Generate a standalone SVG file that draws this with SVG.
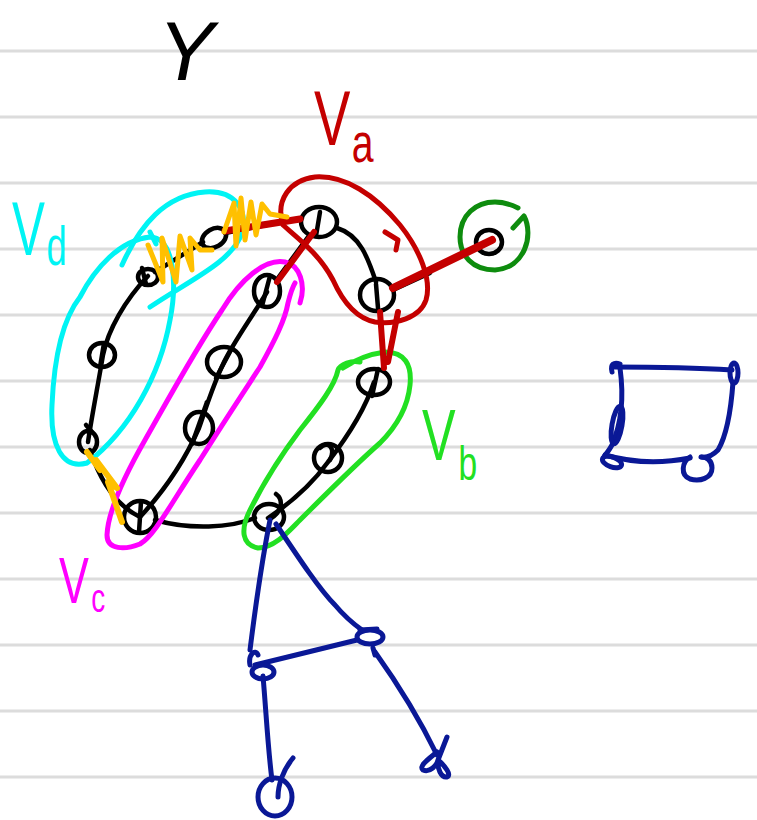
<svg xmlns="http://www.w3.org/2000/svg" width="757" height="820" viewBox="0 0 757 820">
<style>
.rule{stroke:#dcdcdc;stroke-width:3}
.s{fill:none;stroke-linecap:round;stroke-linejoin:round}
.k{stroke:#000;stroke-width:4.5}
.r{stroke:#c40000;stroke-width:5}
.rt{stroke:#c40000;stroke-width:8}
.y{stroke:#ffc000;stroke-width:5}
.cy{stroke:#00f4f4;stroke-width:5}
.mg{stroke:#ff00ff;stroke-width:5}
.lm{stroke:#22e022;stroke-width:5}
.dg{stroke:#0e8c0e;stroke-width:5}
.b{stroke:#0a1896;stroke-width:5}
.lbl{font-family:"Liberation Sans",Arial,sans-serif}
</style>
<rect width="757" height="820" fill="#fff"/>
<g id="rules">
<line class="rule" x1="0" y1="51" x2="757" y2="51"/>
<line class="rule" x1="0" y1="117" x2="757" y2="117"/>
<line class="rule" x1="0" y1="183" x2="757" y2="183"/>
<line class="rule" x1="0" y1="249" x2="757" y2="249"/>
<line class="rule" x1="0" y1="315" x2="757" y2="315"/>
<line class="rule" x1="0" y1="381" x2="757" y2="381"/>
<line class="rule" x1="0" y1="447" x2="757" y2="447"/>
<line class="rule" x1="0" y1="513" x2="757" y2="513"/>
<line class="rule" x1="0" y1="579" x2="757" y2="579"/>
<line class="rule" x1="0" y1="645" x2="757" y2="645"/>
<line class="rule" x1="0" y1="711" x2="757" y2="711"/>
<line class="rule" x1="0" y1="777" x2="757" y2="777"/>
</g>
<g id="connectors">
<path class="s k" d="M337,228 C360,235 368,258 376,282"/>
<path class="s k" d="M155,272 L203,242 M225,233 L302,218"/>
<path class="s k" d="M308,237 L278,278"/>
<path class="s k" d="M267,292 C250,320 235,340 224,362 C213,385 207,405 199,428 C185,460 165,490 140,517"/>
<path class="s k" d="M148,276 C125,300 108,330 103,355 C98,385 92,415 88,442"/>
<path class="s k" d="M90,450 C100,480 115,505 140,517"/>
<path class="s k" d="M155,520 C190,530 230,528 255,518"/>
<path class="s k" d="M268,518 C295,500 315,480 328,462 C345,440 365,410 374,382"/>
<path class="s k" d="M393,290 L430,273"/>
</g>
<g id="n1"><ellipse class="s k" cx="319" cy="222" rx="18" ry="15"/><path class="s k" d="M320,212 L316,236"/></g>
<g id="n2"><ellipse class="s k" cx="377" cy="295" rx="17" ry="16"/><path class="s k" d="M376,284 L378,308"/></g>
<g id="n3"><ellipse class="s k" cx="489" cy="242" rx="13" ry="12"/></g>
<g id="n4"><ellipse class="s k" cx="214" cy="238" rx="13" ry="9" transform="rotate(-30 214 238)"/></g>
<g id="n5"><ellipse class="s k" cx="148" cy="277" rx="10" ry="8"/><path class="s k" d="M142,268 L146,284"/></g>
<g id="n6"><ellipse class="s k" cx="102" cy="355" rx="13" ry="12"/><path class="s k" d="M104,343 L100,367"/></g>
<g id="n7"><ellipse class="s k" cx="88" cy="442" rx="9" ry="11"/><path class="s k" d="M86,425 L92,432"/></g>
<g id="n8"><ellipse class="s k" cx="140" cy="517" rx="16" ry="16"/><path class="s k" d="M141,502 L139,532"/></g>
<g id="n9"><ellipse class="s k" cx="269" cy="517" rx="15" ry="13"/><path class="s k" d="M276,494 C284,500 282,512 270,519"/></g>
<g id="n10"><ellipse class="s k" cx="328" cy="458" rx="14" ry="14"/><path class="s k" d="M320,448 C328,440 336,448 330,460"/></g>
<g id="n11"><ellipse class="s k" cx="374" cy="382" rx="16" ry="13"/><path class="s k" d="M378,369 L372,396"/></g>
<g id="n12"><ellipse class="s k" cx="267" cy="291" rx="13" ry="16"/><path class="s k" d="M270,276 L262,306"/></g>
<g id="n13"><ellipse class="s k" cx="224" cy="362" rx="17" ry="15"/><path class="s k" d="M232,348 L216,378"/></g>
<g id="n14"><ellipse class="s k" cx="199" cy="428" rx="14" ry="16"/><path class="s k" d="M207,402 L192,444"/></g>
<g id="enclosures">
<path class="s cy" d="M87,463 C62,470 50,445 52,405 C54,360 62,320 80,297 C95,268 120,240 150,237 C175,238 177,285 170,320 C160,375 130,430 87,463"/>
<path class="s cy" d="M122,265 C140,225 165,195 205,192 C235,190 248,210 242,233 C232,262 190,280 150,307 M150,232 L156,244"/>
<path class="s mg" d="M300,303 C306,285 300,265 285,262 C265,258 240,280 222,310 C195,350 165,405 145,440 C125,475 108,510 107,535 C107,550 125,550 140,544 C155,535 170,505 200,460 C225,420 245,390 260,367 C275,340 285,320 288,303 C290,295 292,288 295,283"/>
<path class="s lm" d="M360,362 C352,360 340,364 338,370 C335,385 320,405 300,430 C285,450 265,480 250,510 C240,530 242,545 258,548 C275,548 290,530 300,520 C330,490 355,465 380,443 C398,425 408,405 410,385 C412,365 405,352 385,352 C370,354 355,360 343,368"/>
<path class="s r" d="M283,225 C275,200 290,180 315,177 C345,175 375,195 400,225 C420,250 432,280 426,300 C420,318 395,325 375,322 C355,318 342,300 333,280 C320,255 300,240 283,225"/>
<path class="s r" d="M385,232 L398,240 L396,250"/>
<path class="s dg" d="M513,228 L524,216 C534,235 525,268 495,270 C472,270 460,255 460,237 C460,215 476,202 495,202 C505,202 512,205 518,208"/>
</g>
<g id="red-edges">
<path class="s rt" d="M393,288 L492,240"/>
<path class="s r" d="M225,231 L300,219" style="stroke-width:7"/>
<path class="s r" d="M314,232 L277,282" style="stroke-width:6"/>
<path class="s r" d="M380,312 L384,368 M398,312 L388,362" style="stroke-width:6"/>
</g>
<g id="zigzags">
<polyline class="s y" points="148,245 163,282 162,238 176,282 180,236 192,270 190,238 200,250 212,250"/>
<polyline class="s y" points="224,232 234,203 236,246 241,198 245,240 251,202 256,235 262,204 270,214 287,217"/>
<polyline class="s y" style="stroke-width:6" points="87,452 100,470 96,460 117,488 108,482 122,522"/>
</g>
<g id="blue-tree">
<path class="s b" d="M270,520 C262,560 255,610 250,650"/>
<path class="s b" d="M276,524 C300,560 320,590 335,605 C345,617 355,625 362,630"/>
<path class="s b" d="M255,665 L357,640"/>
<path class="s b" d="M263,676 C266,710 268,750 272,780"/>
<path class="s b" d="M375,652 C395,680 420,720 437,755"/>
<g id="b1"><ellipse class="s b" cx="263" cy="672" rx="11" ry="7"/><path class="s b" d="M250,665 C248,655 255,648 258,655"/></g>
<g id="b2"><ellipse class="s b" cx="370" cy="637" rx="13" ry="7"/><path class="s b" d="M360,630 L377,629 M373,648 L375,655"/></g>
<g id="b3"><ellipse class="s b" cx="275" cy="797" rx="17" ry="19"/><path class="s b" d="M293,758 C283,770 278,785 278,797"/></g>
<g id="b4"><path class="s b" d="M437,752 C430,758 418,766 423,770 C430,773 437,765 438,760 C445,766 452,775 447,777 C441,778 437,768 438,760 L447,737"/></g>
</g>
<g id="blue-box">
<path class="s b" d="M614,367 C650,367 700,368 732,370"/>
<path class="s b" d="M733,382 C731,410 727,435 718,450 C712,456 706,458 701,457"/>
<path class="s b" d="M690,458 C670,462 640,465 605,455"/>
<path class="s b" d="M620,368 C623,390 623,420 612,445 C608,452 605,455 605,455"/>
<path class="s b" d="M612,372 C610,364 614,362 620,364"/>
<ellipse class="s b" cx="734" cy="373" rx="4" ry="10"/>
<ellipse class="s b" cx="617" cy="425" rx="5" ry="19" transform="rotate(10 617 425)"/>
<ellipse class="s b" cx="612" cy="462" rx="10" ry="5" transform="rotate(20 612 462)"/>
<path class="s b" d="M690,457 C682,462 680,475 690,479 C700,482 712,478 712,468 C712,460 706,457 702,457"/>
</g>
<g id="labels">
<text class="lbl" font-style="italic" font-size="84" fill="#000" x="158" y="80">Y</text>
<text class="lbl" fill="#c40000" transform="translate(314,0) scale(0.7,1)"><tspan x="0" y="145" font-size="78">V</tspan><tspan x="54" y="162" font-size="56">a</tspan></text>
<text class="lbl" fill="#00f4f4" transform="translate(12,0) scale(0.65,1)"><tspan x="0" y="255" font-size="76">V</tspan><tspan x="53" y="265" font-size="56">d</tspan></text>
<text class="lbl" fill="#22e022" transform="translate(422,0) scale(0.7,1)"><tspan x="0" y="460" font-size="72">V</tspan><tspan x="52" y="480" font-size="48">b</tspan></text>
<text class="lbl" fill="#ff00ff" transform="translate(59,0) scale(0.7,1)"><tspan x="0" y="603" font-size="64">V</tspan><tspan x="46" y="612" font-size="40">c</tspan></text>
</g>
</svg>
